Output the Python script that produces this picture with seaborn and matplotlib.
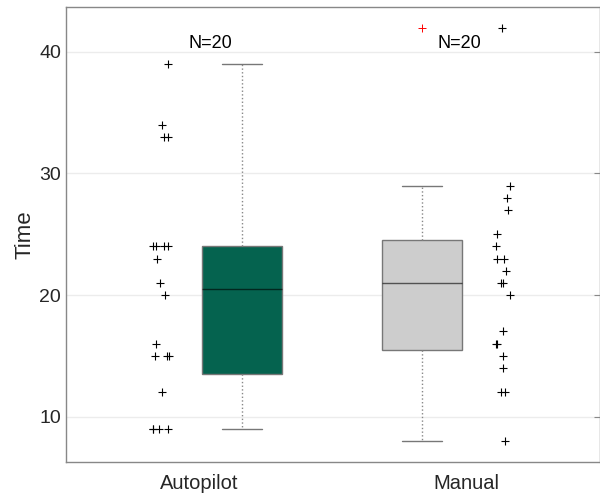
import numpy as np
import pandas as pd
import matplotlib as mpl
mpl.use("Agg")
import matplotlib.pyplot as plt
import seaborn as sns

# ---------------- Data ----------------
groups = ["Autopilot", "Manual"]
autopilot_time = [39, 34, 33, 33, 24, 24, 24, 24, 23, 21, 20, 16, 15, 15, 15, 12, 9, 9, 9, 9]
manual_time = [42, 29, 28, 27, 25, 24, 23, 23, 22, 21, 21, 20, 17, 16, 16, 15, 14, 12, 12, 8]
box_colors = {"Autopilot": "#05634f", "Manual": "#cdcdcd"}

# ---------------- Layout ----------------
BOX_SHIFT = {"Autopilot": 0.158, "Manual": -0.165}
PTS_SHIFT = {"Autopilot": -0.145, "Manual": 0.135}
BOX_W = 0.30


# MATLAB style quartiles ((i-0.5)/n) == numpy "hazen"
_mpl_stats = mpl.cbook.boxplot_stats

def matlab_boxplot_stats(X, whis=1.5, **kw):
    stats = _mpl_stats(X, whis=whis, **kw)
    for s, x in zip(stats, X):
        x = np.asarray(x, float)
        q1, med, q3 = np.percentile(x, [25, 50, 75], method="hazen")
        iqr = q3 - q1
        lo = x[x >= q1 - whis * iqr].min()
        hi = x[x <= q3 + whis * iqr].max()
        s.update(q1=q1, med=med, q3=q3, iqr=iqr, whislo=lo, whishi=hi,
                 fliers=x[(x < lo) | (x > hi)])
    return stats

mpl.cbook.boxplot_stats = matlab_boxplot_stats

df = pd.DataFrame({
    "group": ["Autopilot"] * len(autopilot_time) + ["Manual"] * len(manual_time),
    "time": autopilot_time + manual_time,
})
df["cat"] = df["group"].map({g: i + 1 for i, g in enumerate(groups)})
df["box_pos"] = df["cat"] + df["group"].map(BOX_SHIFT)
df["pts_pos"] = df["cat"] + df["group"].map(PTS_SHIFT)

# ---------------- Plot ----------------
sns.set_style("white")
plt.rcParams["font.family"] = ["Liberation Sans", "DejaVu Sans"]

fig = plt.figure(figsize=(6, 4.93), dpi=100)
ax = fig.add_axes([0.11, 0.063, 0.89, 0.923])

box_gap = df["box_pos"].max() - df["box_pos"].min()
sns.boxplot(
    data=df, x="box_pos", y="time", hue="group", palette=box_colors, saturation=1,
    native_scale=True, width=BOX_W / box_gap, linecolor="#777777", linewidth=1,
    whiskerprops={"linestyle": ":", "color": "#888888"},
    medianprops={"color": "black", "alpha": 0.6},
    flierprops={"marker": "+", "markeredgecolor": "red", "markersize": 6,
                "markeredgewidth": 0.7},
    legend=False, ax=ax,
)

np.random.seed(4)
pts_gap = df["pts_pos"].max() - df["pts_pos"].min()
sns.stripplot(
    data=df, x="pts_pos", y="time", native_scale=True, jitter=0.03 / pts_gap,
    marker="+", color="black", size=6, linewidth=0.8, ax=ax,
)

for i, g in enumerate(groups):
    n = (df["group"] == g).sum()
    ax.text(i + 1 + (0.04 if g == "Autopilot" else -0.025), 40.7, f"N={n}",
            ha="center", va="center", fontsize=13, color="black")

ax.set_xlim(0.5, 2.5)
ax.set_ylim(6.27, 43.7)
ax.set_xticks([1, 2], groups)
ax.set_yticks([10, 20, 30, 40])
ax.set_xlabel("")
ax.set_ylabel("Time", fontsize=16, color="#262626", labelpad=3)
ax.tick_params(direction="in", length=4, color="#888888", labelsize=14,
               labelcolor="#262626", right=True)
ax.tick_params(axis="x", labelsize=14.5, pad=9)
ax.yaxis.grid(True, color="#ececec", linewidth=1)
ax.set_axisbelow(True)
for side in ax.spines.values():
    side.set_color("#888888")
    side.set_linewidth(1)

fig.savefig("out.png", dpi=100)
